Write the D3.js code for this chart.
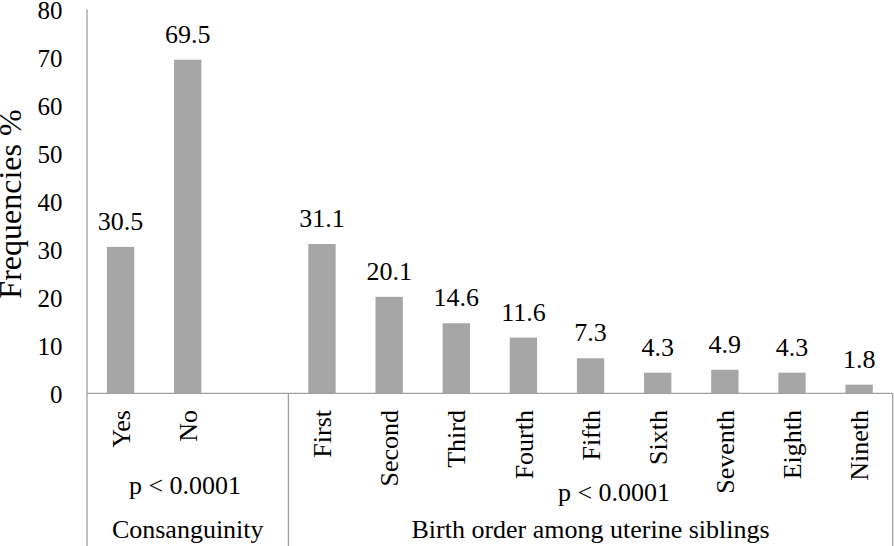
<!DOCTYPE html>
<html>
<head>
<meta charset="utf-8">
<script src="https://cdn.jsdelivr.net/npm/d3@7"></script>
<style>
  html, body { margin: 0; padding: 0; background: #fff; }
  svg { display: block; font-family: "Liberation Serif", "Times New Roman", serif; }
</style>
</head>
<body>
<svg id="chart" width="894" height="546"></svg>
<script>
// ---- data ----
const consCategories = ["Yes", "No"];
const consValues = [30.5, 69.5];
const birthCategories = ["First", "Second", "Third", "Fourth", "Fifth", "Sixth", "Seventh", "Eighth", "Nineth"];
const birthValues = [31.1, 20.1, 14.6, 11.6, 7.3, 4.3, 4.9, 4.3, 1.8];
const yTicks = [0, 10, 20, 30, 40, 50, 60, 70, 80];
const groupLabels = ["Consanguinity", "Birth order among uterine siblings"];
const pLabels = ["p < 0.0001", "p < 0.0001"];
const yTitle = "Frequencies %";

(function () {
// ---- layout ----
const W = 894, H = 546;
const plotLeft = 87, plotRight = 892.7, plotTop = 9.3, plotBase = 393.3;
const gapKey = "__gap__";
const domain = [...consCategories, gapKey, ...birthCategories];
const rows = [
  ...consCategories.map((c, i) => ({ cat: c, v: consValues[i] })),
  ...birthCategories.map((c, i) => ({ cat: c, v: birthValues[i] }))
];

const svg = d3.select("#chart");
const x = d3.scaleBand().domain(domain).range([plotLeft, plotRight]).paddingInner(0.593).paddingOuter(0.593 / 2);
const y = d3.scaleLinear().domain([0, 80]).range([plotBase, plotTop]);

const barColor = "#a6a6a6";
const lineColor = "#a0a0a0";
const serif = "Liberation Serif, Times New Roman, serif";

// bars
svg.append("g").selectAll("rect").data(rows).join("rect")
  .attr("x", d => x(d.cat))
  .attr("y", d => y(d.v))
  .attr("width", x.bandwidth())
  .attr("height", d => y(0) - y(d.v))
  .attr("fill", barColor);

// value labels
svg.append("g").selectAll("text").data(rows).join("text")
  .attr("x", d => x(d.cat) + x.bandwidth() / 2)
  .attr("y", d => y(d.v) - 17)
  .attr("text-anchor", "middle")
  .attr("font-family", serif)
  .attr("font-size", 26)
  .attr("fill", "#000")
  .text(d => d.v.toFixed(1));

// y axis (labels only)
const yAxis = d3.axisLeft(y).tickValues(yTicks).tickSize(0).tickPadding(0).tickFormat(d3.format("d"));
const gy = svg.append("g").attr("transform", `translate(${plotLeft - 24.5},0)`).call(yAxis)
  .attr("font-family", serif);
gy.select(".domain").remove();
gy.selectAll("text").attr("font-size", 25).attr("font-family", serif).attr("fill", "#000").attr("dy", "0.36em");

// axis lines
const sepX = x("First") - (x.step() - x.bandwidth()) / 2;
const lines = svg.append("g").attr("stroke", lineColor).attr("stroke-width", 1.3).attr("fill", "none");
lines.append("line").attr("x1", plotLeft).attr("x2", plotLeft).attr("y1", plotTop).attr("y2", H);
lines.append("line").attr("x1", plotLeft).attr("x2", plotRight).attr("y1", plotBase).attr("y2", plotBase);
lines.append("line").attr("x1", sepX).attr("x2", sepX).attr("y1", plotBase).attr("y2", H);
lines.append("line").attr("x1", plotRight).attr("x2", plotRight).attr("y1", plotBase).attr("y2", H);

// category labels (rotated)
svg.append("g").selectAll("text").data(rows).join("text")
  .attr("transform", d => `translate(${x(d.cat) + x.bandwidth() / 2},410) rotate(-90)`)
  .attr("text-anchor", "end")
  .attr("dy", "0.35em")
  .attr("font-family", serif)
  .attr("font-size", 26)
  .attr("fill", "#000")
  .text(d => d.cat);

// p labels
const pPos = [{ x: 185, y: 494 }, { x: 614, y: 501 }];
svg.append("g").selectAll("text").data(pLabels).join("text")
  .attr("x", (d, i) => pPos[i].x)
  .attr("y", (d, i) => pPos[i].y)
  .attr("text-anchor", "middle")
  .attr("font-family", serif)
  .attr("font-size", 26)
  .attr("fill", "#000")
  .text(d => d);

// group labels
const gCenters = [(plotLeft + sepX) / 2, (sepX + plotRight) / 2];
svg.append("g").selectAll("text").data(groupLabels).join("text")
  .attr("x", (d, i) => gCenters[i])
  .attr("y", 537.5)
  .attr("text-anchor", "middle")
  .attr("font-family", serif)
  .attr("font-size", 26)
  .attr("fill", "#000")
  .text(d => d);

// y title
svg.append("text")
  .attr("transform", `translate(21,204) rotate(-90)`)
  .attr("text-anchor", "middle")
  .attr("font-family", serif)
  .attr("font-size", 32)
  .attr("fill", "#000")
  .text(yTitle);
})();
</script>
</body>
</html>
